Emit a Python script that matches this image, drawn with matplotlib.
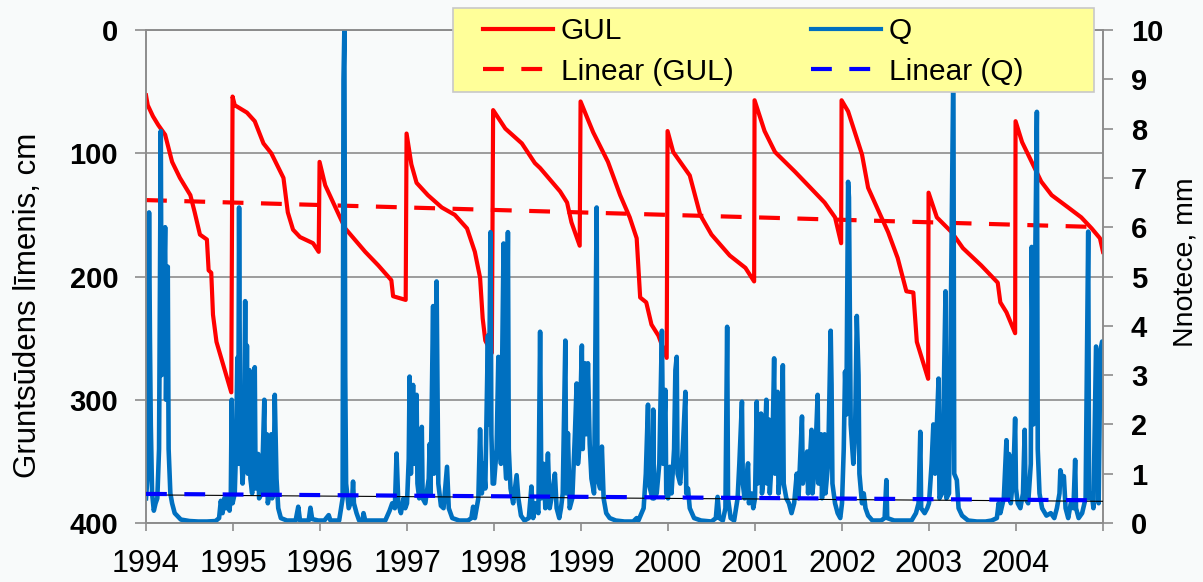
import matplotlib
matplotlib.use("Agg")
import matplotlib.pyplot as plt
from matplotlib.lines import Line2D
from matplotlib.patches import Rectangle
import numpy as np

plt.rcParams['font.family'] = ['Liberation Sans', 'DejaVu Sans']

# ---------------- data (decimal year, value) ----------------
gul_points = [
    (1994.00, 53), (1994.02, 61), (1994.08, 70), (1994.14, 77), (1994.22, 85), (1994.30, 107),
    (1994.39, 120), (1994.51, 134), (1994.56, 148), (1994.62, 166), (1994.70, 170), (1994.72, 195),
    (1994.75, 197), (1994.77, 231), (1994.81, 253), (1994.98, 294),
    (1994.995, 54), (1995.02, 61), (1995.16, 67), (1995.25, 74), (1995.35, 92), (1995.44, 100),
    (1995.58, 120), (1995.63, 148), (1995.69, 162), (1995.77, 168), (1995.92, 173), (1995.985, 180),
    (1995.995, 107), (1996.06, 126), (1996.23, 152), (1996.29, 161), (1996.52, 180), (1996.67, 191),
    (1996.82, 203), (1996.84, 216), (1996.985, 219),
    (1996.995, 84), (1997.05, 109), (1997.11, 124), (1997.24, 134), (1997.40, 144), (1997.55, 150),
    (1997.69, 161), (1997.78, 180), (1997.84, 201), (1997.87, 234), (1997.90, 252), (1997.975, 262),
    (1997.99, 65), (1998.13, 80), (1998.32, 92), (1998.47, 108), (1998.53, 112), (1998.76, 131),
    (1998.84, 140), (1998.89, 156), (1998.985, 175),
    (1998.995, 58), (1999.07, 71), (1999.14, 83), (1999.31, 107), (1999.45, 134), (1999.56, 152),
    (1999.64, 169), (1999.68, 217), (1999.75, 221), (1999.81, 239), (1999.89, 248), (1999.985, 266),
    (1999.995, 82), (2000.06, 99), (2000.25, 118), (2000.37, 150), (2000.50, 166), (2000.71, 183),
    (2000.89, 193), (2000.99, 204),
    (2000.995, 57), (2001.11, 82), (2001.23, 99), (2001.46, 115), (2001.61, 126), (2001.80, 140),
    (2001.92, 152), (2001.99, 173),
    (2001.995, 57), (2002.07, 66), (2002.23, 101), (2002.30, 128), (2002.44, 150), (2002.53, 164),
    (2002.64, 185), (2002.74, 212), (2002.82, 213), (2002.86, 253), (2002.99, 283),
    (2002.995, 132), (2003.09, 152), (2003.26, 164), (2003.39, 177), (2003.60, 191), (2003.79, 205),
    (2003.82, 221), (2003.89, 229), (2003.99, 246),
    (2003.995, 74), (2004.07, 91), (2004.18, 107), (2004.29, 123), (2004.41, 134), (2004.60, 144),
    (2004.75, 152), (2004.87, 161), (2004.965, 169), (2005.00, 180),
]

q_1994 = [(1994.00, 0.5), (1994.02, 1.0), (1994.035, 6.3), (1994.045, 3.8), (1994.055, 2.0),
          (1994.07, 0.6), (1994.09, 0.25), (1994.11, 0.4), (1994.13, 0.5), (1994.15, 1.5),
          (1994.17, 7.95), (1994.18, 3.0), (1994.20, 4.0), (1994.22, 6.0), (1994.23, 2.5),
          (1994.25, 5.2), (1994.26, 1.5), (1994.28, 0.6), (1994.30, 0.4), (1994.33, 0.2),
          (1994.40, 0.07), (1994.50, 0.04), (1994.60, 0.03), (1994.70, 0.03), (1994.80, 0.04),
          (1994.84, 0.1), (1994.86, 0.45), (1994.88, 0.2), (1994.90, 0.5), (1994.92, 0.3),
          (1994.94, 0.55), (1994.96, 0.25), (1994.975, 0.6), (1994.985, 2.5), (1994.995, 0.4)]
q_1995 = [(1995.02, 0.6), (1995.035, 1.5), (1995.05, 3.35), (1995.06, 1.2), (1995.07, 6.4),
          (1995.08, 2.5), (1995.095, 1.5), (1995.11, 0.8), (1995.125, 1.3), (1995.14, 4.5),
          (1995.15, 1.5), (1995.16, 3.6), (1995.17, 1.0), (1995.19, 3.1), (1995.20, 0.9),
          (1995.22, 0.6), (1995.25, 3.16), (1995.26, 0.7), (1995.29, 1.4), (1995.30, 0.5),
          (1995.33, 0.6), (1995.36, 2.5), (1995.37, 0.6), (1995.39, 1.8), (1995.40, 0.4),
          (1995.42, 0.6), (1995.44, 1.8), (1995.45, 0.5), (1995.47, 1.2), (1995.48, 2.6),
          (1995.50, 0.9), (1995.52, 0.3), (1995.55, 0.1), (1995.62, 0.05), (1995.72, 0.05),
          (1995.75, 0.33), (1995.77, 0.05), (1995.87, 0.05), (1995.89, 0.31), (1995.91, 0.08),
          (1995.98, 0.05)]
q_1996 = [(1996.05, 0.05), (1996.10, 0.16), (1996.12, 0.05), (1996.22, 0.05), (1996.26, 0.5),
          (1996.27, 9.0), (1996.28, 10.0), (1996.29, 3.0), (1996.30, 0.8), (1996.33, 0.3),
          (1996.37, 0.5), (1996.38, 0.84), (1996.39, 0.4), (1996.42, 0.2), (1996.45, 0.05),
          (1996.49, 0.05), (1996.50, 0.2), (1996.52, 0.05), (1996.60, 0.05), (1996.75, 0.05),
          (1996.80, 0.25), (1996.83, 0.4), (1996.86, 0.3), (1996.88, 1.41), (1996.90, 0.4),
          (1996.93, 0.2), (1996.96, 0.5), (1996.98, 0.3)]
q_1997 = [(1997.00, 0.4), (1997.02, 1.3), (1997.03, 2.97), (1997.045, 1.0), (1997.07, 2.8),
          (1997.08, 1.2), (1997.11, 2.6), (1997.12, 0.8), (1997.14, 0.5), (1997.17, 1.95),
          (1997.18, 0.5), (1997.21, 0.4), (1997.25, 0.9), (1997.26, 1.6), (1997.27, 0.6),
          (1997.30, 4.4), (1997.31, 1.0), (1997.34, 4.9), (1997.36, 0.8), (1997.39, 0.35),
          (1997.42, 0.3), (1997.46, 1.14), (1997.48, 0.3), (1997.52, 0.1), (1997.60, 0.05),
          (1997.70, 0.05), (1997.74, 0.1), (1997.76, 0.33), (1997.78, 0.1), (1997.80, 0.3),
          (1997.82, 0.5), (1997.84, 1.9), (1997.86, 0.6), (1997.88, 1.2), (1997.90, 0.7),
          (1997.93, 3.8), (1997.94, 2.0), (1997.96, 5.9), (1997.97, 1.8), (1997.985, 0.8)]
q_1998 = [(1998.00, 0.8), (1998.03, 1.5), (1998.05, 3.37), (1998.06, 1.9), (1998.08, 1.2),
          (1998.11, 5.67), (1998.12, 1.5), (1998.14, 0.9), (1998.16, 5.9), (1998.17, 1.5),
          (1998.19, 0.7), (1998.22, 0.4), (1998.26, 0.97), (1998.28, 0.5), (1998.31, 0.15),
          (1998.35, 0.05), (1998.40, 0.1), (1998.43, 0.74), (1998.45, 0.1), (1998.48, 0.4),
          (1998.51, 0.2), (1998.53, 3.88), (1998.545, 0.5), (1998.57, 1.2), (1998.59, 0.3),
          (1998.62, 1.41), (1998.64, 0.3), (1998.67, 0.6), (1998.70, 1.0), (1998.72, 0.3),
          (1998.75, 0.1), (1998.77, 0.3), (1998.79, 0.6), (1998.82, 3.7), (1998.83, 0.6),
          (1998.85, 1.82), (1998.87, 0.3), (1998.90, 0.5), (1998.93, 1.8), (1998.95, 2.83),
          (1998.965, 1.2), (1998.98, 1.5)]
q_1999 = [(1999.01, 3.6), (1999.02, 1.5), (1999.045, 3.24), (1999.06, 1.8), (1999.08, 3.24),
          (1999.10, 1.6), (1999.12, 0.9), (1999.15, 0.6), (1999.18, 6.4), (1999.19, 0.9),
          (1999.22, 0.7), (1999.24, 1.55), (1999.26, 0.5), (1999.29, 0.2), (1999.33, 0.1),
          (1999.40, 0.05), (1999.50, 0.03), (1999.60, 0.03), (1999.64, 0.1), (1999.66, 0.05),
          (1999.72, 0.3), (1999.745, 1.0), (1999.77, 2.4), (1999.78, 0.8), (1999.82, 0.5),
          (1999.83, 2.3), (1999.84, 0.5), (1999.87, 0.6), (1999.90, 1.2), (1999.93, 3.9),
          (1999.945, 1.2), (1999.97, 2.7), (1999.98, 0.6)]
q_2000 = [(2000.00, 0.5), (2000.02, 1.14), (2000.04, 0.6), (2000.07, 1.5), (2000.085, 3.1),
          (2000.10, 3.37), (2000.11, 1.0), (2000.14, 0.8), (2000.17, 1.5), (2000.20, 2.66),
          (2000.21, 0.6), (2000.23, 0.7), (2000.25, 0.3), (2000.30, 0.1), (2000.38, 0.05),
          (2000.50, 0.03), (2000.55, 0.1), (2000.57, 0.53), (2000.59, 0.1), (2000.63, 0.05),
          (2000.66, 0.3), (2000.68, 3.98), (2000.69, 0.5), (2000.72, 0.1), (2000.76, 0.05),
          (2000.80, 0.5), (2000.82, 1.2), (2000.85, 2.46), (2000.86, 0.8), (2000.88, 0.5),
          (2000.92, 1.21), (2000.93, 0.4), (2000.96, 0.6), (2000.98, 0.3)]
q_2001 = [(2001.00, 0.5), (2001.02, 2.46), (2001.03, 0.8), (2001.05, 1.2), (2001.07, 2.22),
          (2001.08, 0.6), (2001.10, 0.9), (2001.13, 2.5), (2001.14, 0.8), (2001.16, 2.1),
          (2001.17, 0.6), (2001.20, 1.5), (2001.22, 3.34), (2001.23, 1.0), (2001.26, 2.66),
          (2001.27, 0.6), (2001.30, 1.2), (2001.32, 3.2), (2001.33, 0.8), (2001.36, 0.5),
          (2001.39, 0.4), (2001.42, 0.2), (2001.45, 0.4), (2001.48, 1.0), (2001.50, 0.5),
          (2001.54, 2.16), (2001.55, 0.8), (2001.60, 1.45), (2001.61, 0.6), (2001.65, 1.89),
          (2001.66, 0.6), (2001.69, 1.2), (2001.72, 2.6), (2001.73, 0.8), (2001.76, 1.8),
          (2001.77, 0.5), (2001.80, 1.8), (2001.81, 0.6), (2001.84, 1.2), (2001.87, 3.9),
          (2001.88, 2.8), (2001.89, 0.8), (2001.92, 0.4), (2001.95, 0.2), (2001.98, 0.1)]
q_2002 = [(2002.00, 0.4), (2002.02, 1.5), (2002.035, 3.07), (2002.05, 2.2), (2002.07, 6.92),
          (2002.08, 6.6), (2002.10, 2.0), (2002.13, 1.2), (2002.15, 1.8), (2002.17, 4.2),
          (2002.19, 3.0), (2002.20, 1.0), (2002.23, 0.4), (2002.25, 0.6), (2002.27, 0.3),
          (2002.30, 0.15), (2002.35, 0.05), (2002.45, 0.05), (2002.49, 0.1), (2002.51, 0.87),
          (2002.52, 0.1), (2002.60, 0.05), (2002.70, 0.05), (2002.80, 0.05), (2002.85, 0.2),
          (2002.88, 0.4), (2002.90, 1.85), (2002.91, 0.3), (2002.95, 0.2), (2002.98, 0.3)]
q_2003 = [(2003.00, 0.4), (2003.03, 1.2), (2003.05, 2.0), (2003.07, 1.0), (2003.11, 2.93),
          (2003.12, 0.5), (2003.15, 0.6), (2003.19, 4.7), (2003.20, 0.5), (2003.23, 0.6),
          (2003.28, 9.3), (2003.29, 1.0), (2003.32, 0.87), (2003.34, 0.3), (2003.38, 0.15),
          (2003.45, 0.05), (2003.55, 0.03), (2003.65, 0.03), (2003.72, 0.05), (2003.78, 0.1),
          (2003.80, 0.4), (2003.82, 0.2), (2003.86, 0.5), (2003.89, 1.68), (2003.90, 0.5),
          (2003.92, 1.4), (2003.94, 0.4), (2003.97, 1.0), (2003.99, 2.12)]
q_2004 = [(2004.00, 0.7), (2004.02, 0.4), (2004.05, 0.3), (2004.08, 0.6), (2004.10, 1.89),
          (2004.11, 0.5), (2004.14, 0.4), (2004.17, 1.2), (2004.18, 5.6), (2004.20, 2.0),
          (2004.24, 8.34), (2004.25, 1.5), (2004.27, 0.6), (2004.30, 0.3), (2004.35, 0.15),
          (2004.40, 0.2), (2004.44, 0.1), (2004.47, 0.3), (2004.50, 0.6), (2004.51, 1.07),
          (2004.53, 0.9), (2004.55, 0.95), (2004.57, 0.3), (2004.60, 0.1), (2004.63, 0.4),
          (2004.66, 0.3), (2004.68, 1.28), (2004.69, 0.3), (2004.72, 0.1), (2004.76, 0.2),
          (2004.80, 0.5), (2004.83, 5.91), (2004.84, 0.5), (2004.87, 0.6), (2004.89, 0.3),
          (2004.92, 3.58), (2004.93, 2.5), (2004.95, 0.4), (2004.97, 3.5), (2004.99, 3.68),
          (2005.00, 3.68)]

trend_x = [1994.0, 2005.0]
trend_gul = [138, 160]
trend_q = [0.59, 0.46]
trend_q_black = [0.57, 0.44]

years = list(range(1994, 2006))
year_labels = [str(y) for y in range(1994, 2005)] + [""]
left_ticks = [0, 100, 200, 300, 400]
right_ticks = list(range(0, 11))

# ---------------- figure ----------------
W, H = 1203, 582
BG = '#F8FAFA'
fig = plt.figure(figsize=(W / 100, H / 100), dpi=100, facecolor=BG)
ax = fig.add_axes([146 / W, 1 - 523 / H, (1103 - 146) / W, (523 - 30) / H])
ax.set_facecolor(BG)
ax2 = ax.twinx()
ax2.patch.set_visible(False)

gx, gy = zip(*gul_points)
q_all = q_1994 + q_1995 + q_1996 + q_1997 + q_1998 + q_1999 + q_2000 + q_2001 + q_2002 + q_2003 + q_2004
qx, qy = zip(*q_all)

RED = '#FF0000'
QBLUE = '#0070C0'
LBLUE = '#0000FF'
GRAY = '#8C8C8C'

ax.plot(gx, gy, color=RED, lw=3.0, solid_joinstyle='round', zorder=3)
ax.plot(trend_x, trend_gul, color=RED, lw=3.0, dashes=(5, 4.2), zorder=3)

ax2.plot(qx, qy, color=QBLUE, lw=3.3, solid_joinstyle='round', zorder=2)
ax2.plot(trend_x, trend_q_black, color='black', lw=0.8, zorder=3)
ax2.plot(trend_x, trend_q, color=LBLUE, lw=3.0, dashes=(5, 4.2), zorder=4)

ax.set_xlim(1994, 2005)
ax.set_ylim(400, 0)
ax2.set_ylim(0, 10)

ax.set_xticks(years)
ax.set_xticklabels(year_labels)
ax.set_yticks(left_ticks)
ax2.set_yticks(right_ticks)

ax.grid(axis='y', color=GRAY, lw=1.2)
ax.set_axisbelow(True)

for a in (ax, ax2):
    for s in a.spines.values():
        s.set_color(GRAY)
        s.set_linewidth(1.2)

ax.tick_params(axis='x', direction='out', length=6, width=1.2, color=GRAY, pad=13,
               labelsize=22)
ax.tick_params(axis='y', direction='out', length=8, width=1.2, color=GRAY, pad=12,
               labelsize=21)
ax2.tick_params(axis='y', direction='out', length=7, width=1.2, color=GRAY, pad=13,
                labelsize=21)
for lbl in ax.get_yticklabels() + ax2.get_yticklabels():
    lbl.set_fontweight('bold')

ax.set_ylabel('Gruntsūdens līmenis, cm', fontsize=22.5)
ax.yaxis.set_label_coords((43 - 146) / (1103 - 146), 1 - (305 - 30) / 493)
ax2.set_ylabel('Nnotece, mm', fontsize=20.5)
ax2.yaxis.set_label_coords((1173 - 146) / (1103 - 146), 1 - (262 - 30) / 493)

# legend box
fig.add_artist(Rectangle((453 / W, 1 - 92 / H), (1094 - 453) / W, (92 - 8) / H,
                         transform=fig.transFigure, facecolor='#FFFF99',
                         edgecolor='#C8C8C8', lw=1.2, zorder=4))
handles = [Line2D([], [], color=RED, lw=3.0),
           Line2D([], [], color=RED, lw=3.0, dashes=(5, 4.2)),
           Line2D([], [], color=QBLUE, lw=3.0),
           Line2D([], [], color=LBLUE, lw=3.0, dashes=(5, 4.2))]
labels = ['GUL', 'Linear (GUL)', 'Q', 'Linear (Q)']
leg = fig.legend(handles, labels, ncol=2, loc='upper left',
                 bbox_to_anchor=(483 / W, 1 - 17 / H), bbox_transform=fig.transFigure,
                 frameon=False, fontsize=21.5, borderpad=0, handlelength=2.35,
                 handletextpad=0.25, columnspacing=2.6, labelspacing=0.42,
                 borderaxespad=0)
leg.set_zorder(5)

fig.savefig('out.png', dpi=100, facecolor=BG)
